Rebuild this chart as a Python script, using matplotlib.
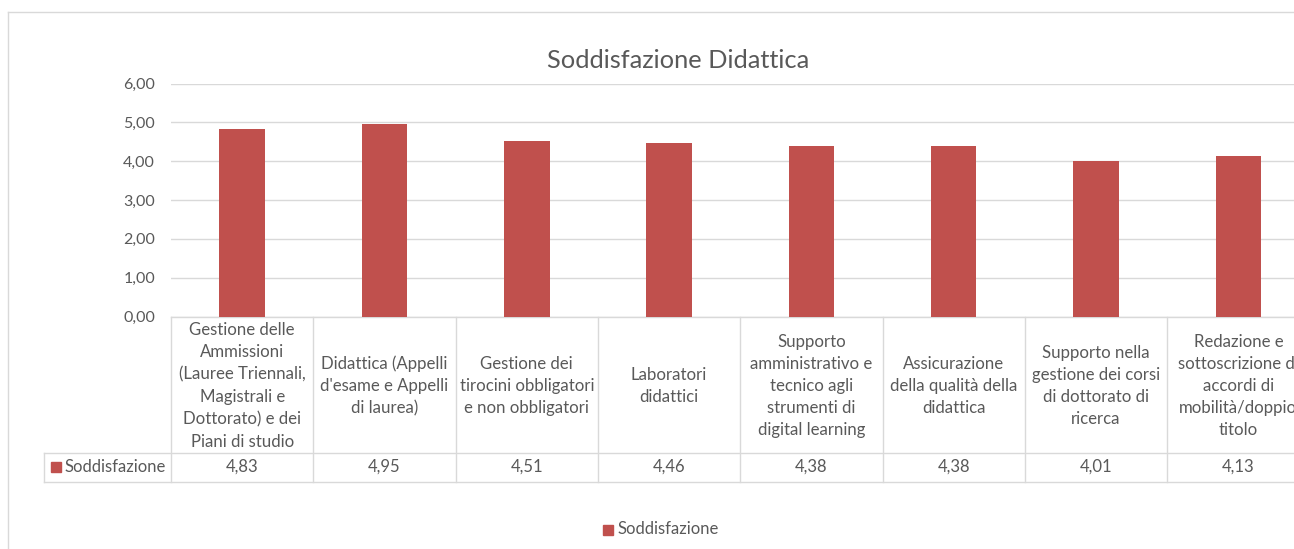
import matplotlib
matplotlib.use('Agg')
import matplotlib.pyplot as plt
from matplotlib.patches import Rectangle
from matplotlib.lines import Line2D
import matplotlib.transforms as mtransforms
from matplotlib.ticker import FuncFormatter, FixedLocator

plt.rcParams['font.family'] = ['Lato', 'DejaVu Sans']

title = "Soddisfazione Didattica"
series_name = "Soddisfazione"
categories = [
    "Gestione delle\nAmmissioni\n(Lauree Triennali,\nMagistrali e\nDottorato) e dei\nPiani di studio",
    "Didattica (Appelli\nd'esame e Appelli\ndi laurea)",
    "Gestione dei\ntirocini obbligatori\ne non obbligatori",
    "Laboratori\ndidattici",
    "Supporto\namministrativo e\ntecnico agli\nstrumenti di\ndigital learning",
    "Assicurazione\ndella qualità della\ndidattica",
    "Supporto nella\ngestione dei corsi\ndi dottorato di\nricerca",
    "Redazione e\nsottoscrizione di\naccordi di\nmobilità/doppio\ntitolo",
]
values = [4.83, 4.95, 4.51, 4.46, 4.38, 4.38, 4.01, 4.13]
yticks = [0, 1, 2, 3, 4, 5, 6]

BAR = '#C0504D'
TXT = '#595959'
GRID = '#D9D9D9'

W, H = 1294, 549
fig = plt.figure(figsize=(W / 100, H / 100), dpi=100)
fig.patch.set_facecolor('white')


def fx(px):
    return px / W


def fy(py):
    return 1 - py / H


ax = fig.add_axes([fx(171), fy(316.5), fx(1309.5) - fx(171), fy(83.5) - fy(316.5)])
x = list(range(len(categories)))
ax.bar(x, values, width=0.32, color=BAR, zorder=3)
ax.set_xlim(-0.5, len(categories) - 0.5)
ax.set_ylim(min(yticks), max(yticks))
ax.yaxis.set_major_locator(FixedLocator(yticks))
ax.yaxis.set_major_formatter(FuncFormatter(lambda v, p: f"{v:.2f}".replace('.', ',')))
ax.tick_params(axis='y', length=0, pad=11.5, labelsize=11.5, labelcolor=TXT)
ax.set_xticks([])
ax.grid(axis='y', color=GRID, lw=1, zorder=0)
for s in ['left', 'right', 'top']:
    ax.spines[s].set_visible(False)
ax.spines['bottom'].set_color(GRID)
ax.spines['bottom'].set_linewidth(1)

# Outer chart frame (cut at right and bottom)
fig.add_artist(Line2D([fx(8), fx(8)], [fy(12), fy(600)], color=GRID, lw=1, transform=fig.transFigure))
fig.add_artist(Line2D([fx(8), fx(1400)], [fy(12), fy(12)], color=GRID, lw=1, transform=fig.transFigure))

# Title
fig.text(fx(678), fy(61), title, ha='center', va='center', fontsize=18.3, color=TXT)

# Data table
bt = mtransforms.blended_transform_factory(ax.transData, fig.transFigure)
top_y, mid_y, bot_y = 316.5, 453, 482
for i in range(len(categories) + 1):
    fig.add_artist(Line2D([i - 0.5, i - 0.5], [fy(top_y), fy(bot_y)], color=GRID, lw=1,
                          transform=bt, clip_on=False))
for yy in (mid_y, bot_y):
    fig.add_artist(Line2D([fx(44), fx(1400)], [fy(yy), fy(yy)], color=GRID, lw=1,
                          transform=fig.transFigure))
fig.add_artist(Line2D([fx(44), fx(44)], [fy(mid_y), fy(bot_y)], color=GRID, lw=1,
                      transform=fig.transFigure))

for i, (c, v) in enumerate(zip(categories, values)):
    fig.text(i, fy(386), c, transform=bt, ha='center', va='center',
             multialignment='center', fontsize=12.1, color=TXT, linespacing=1.48)
    fig.text(i, fy(467), f"{v:.2f}".replace('.', ','), transform=bt,
             ha='center', va='center', fontsize=12, color=TXT)

# row label with key
fig.add_artist(Rectangle((fx(50.5), fy(472)), fx(10), 10 / H, color=BAR, transform=fig.transFigure))
fig.text(fx(64.5), fy(467), series_name, ha='left', va='center',
         fontsize=12, color=TXT)

# Legend
fig.add_artist(Rectangle((fx(603), fy(534.5)), fx(10), 10 / H, color=BAR, transform=fig.transFigure))
fig.text(fx(617), fy(529.5), series_name, ha='left', va='center', fontsize=12, color=TXT)

fig.savefig('out.png', dpi=100, facecolor='white')
